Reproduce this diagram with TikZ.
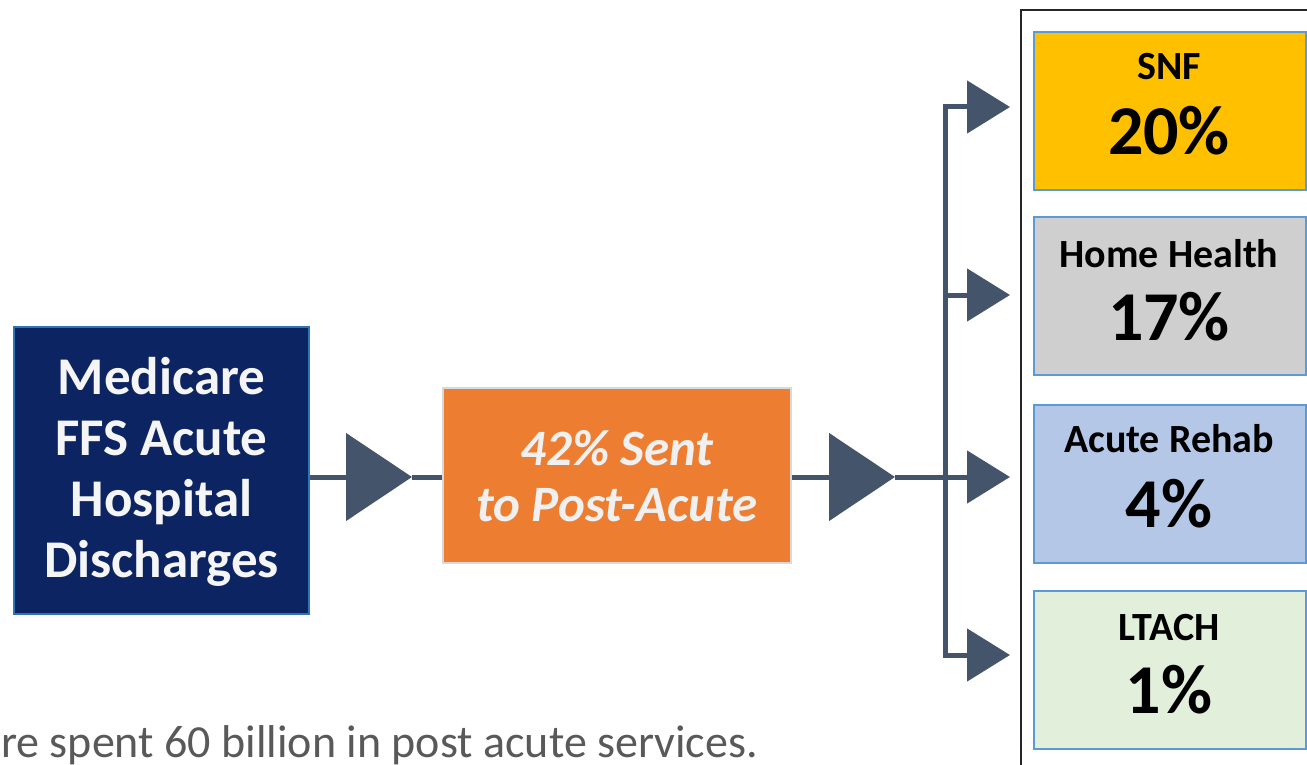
\documentclass[tikz,border=0pt]{standalone}
\usepackage{fontspec}
\setmainfont{Carlito}
\usetikzlibrary{arrows.meta}
\definecolor{navy}{HTML}{0C2461}
\definecolor{navyborder}{HTML}{2E75B6}
\definecolor{orangefill}{HTML}{ED7D31}
\definecolor{arrowcol}{HTML}{44546A}
\definecolor{snfcol}{HTML}{FFC000}
\definecolor{hhcol}{HTML}{CFCFCF}
\definecolor{arcol}{HTML}{B4C7E7}
\definecolor{ltcol}{HTML}{E2EFDA}
\definecolor{boxborder}{HTML}{5B9BD5}
\definecolor{foottext}{HTML}{595959}
\tikzset{
  conn/.style={draw=arrowcol, line width=5pt},
  bigtip/.style={-{Triangle[length=66pt,width=87pt]}},
  smalltip/.style={-{Triangle[length=43pt,width=52pt]}},
  catbox/.style={draw=boxborder, line width=1.6pt, minimum width=272pt, minimum height=158pt, inner sep=0pt, anchor=north west},
  catlabel/.style={anchor=base, inner sep=0pt, font=\fontsize{40}{46}\selectfont\bfseries},
  catpct/.style={anchor=base, inner sep=0pt, font=\fontsize{70}{80}\selectfont\bfseries},
}
\begin{document}
\begin{tikzpicture}[x=1pt,y=-1pt]
\useasboundingbox (0,0) rectangle (1307,765);
% frame
\draw[black!85, line width=2.5pt] (1021,768) -- (1021,10) -- (1310,10);
% source box
\node[draw=navyborder, fill=navy, line width=2pt, minimum width=295pt, minimum height=287pt, inner sep=0pt] (src) at (161.5,470.5) {};
\node[text=white!96!black, align=center, font=\fontsize{53}{61}\selectfont\bfseries, inner sep=0pt] (srctext) at (161.5,472) {Medicare\\FFS Acute\\Hospital\\Discharges};
% orange box
\node[draw=black!15, fill=orangefill, line width=2pt, minimum width=348pt, minimum height=175pt, inner sep=0pt] (mid) at (617,475.5) {};
\node[text=white!94!black, align=center, font=\fontsize{51}{56}\selectfont\bfseries\itshape, inner sep=0pt] (midtext) at (617,476) {42\% Sent\\to Post-Acute};
% category boxes
\node[catbox, fill=snfcol] (snf) at (1033,31) {};
\node[catbox, fill=hhcol] (hh) at (1033,216) {};
\node[catbox, fill=arcol] (ar) at (1033,404) {};
\node[catbox, fill=ltcol] (lt) at (1033,590) {};
\node[catlabel] (snfl) at (1169,80) {SNF};
\node[catpct] (snfp) at (1169,155) {20\%};
\node[catlabel] (hhl) at (1169,267) {Home Health};
\node[catpct] (hhp) at (1169,340) {17\%};
\node[catlabel] (arl) at (1169,452) {Acute Rehab};
\node[catpct] (arp) at (1169,527) {4\%};
\node[catlabel] (ltl) at (1169,640) {LTACH};
\node[catpct] (ltp) at (1169,713) {1\%};
% connector coordinates
\coordinate (t1) at (412,477);
\coordinate (t2) at (895,477);
\coordinate (j) at (945,477);
\coordinate (jhh) at (945,295);
\coordinate (asnf) at (1010,107);
\coordinate (ahh) at (1010,295);
\coordinate (aar) at (1010,477);
\coordinate (alt) at (1010,655);
% connectors
\draw[conn, bigtip] (src.east |- t1) -- (t1);
\draw[conn] (t1) -- (mid.west |- t1);
\draw[conn, bigtip] (mid.east |- t2) -- (t2);
\draw[conn, smalltip] (t2) -- (aar);
\draw[conn, smalltip] (j) |- (asnf);
\draw[conn, smalltip] (j) |- (alt);
\draw[conn, smalltip] (jhh) -- (ahh);
% footer
\node[anchor=base west, inner sep=0pt, text=foottext, font=\fontsize{46}{54}\selectfont] (foot) at (1,757) {re spent 60 billion in post acute services.};
\end{tikzpicture}
\end{document}
